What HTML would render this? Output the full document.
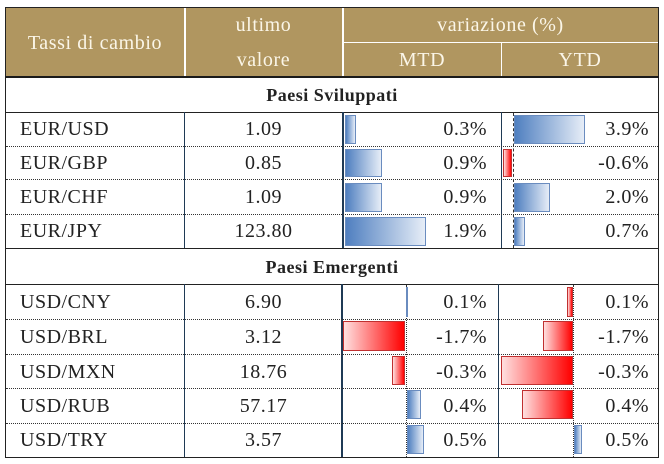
<!DOCTYPE html>
<html><head><style>
*{margin:0;padding:0;box-sizing:border-box}
body{width:664px;height:464px;background:#fff;position:relative;overflow:hidden;font-family:"Liberation Serif",serif;font-size:20px;letter-spacing:0.5px;color:#222}
.a{position:absolute}
.hd{background:#b09660}
.ht{position:absolute;color:#fbf6e8;font-size:20px;letter-spacing:0.6px;text-align:center;line-height:22px}
.t{position:absolute;line-height:22px}
.pos{position:absolute;background:linear-gradient(to right,#4f7fc0,#e6edf7);border:1px solid #6a8cbf}
.neg{position:absolute;background:linear-gradient(to right,#ffe0e0,#ff0000);border:1px solid #c03030}
.hl{position:absolute;height:0;border-top:1px dotted #333;left:6px;width:652px}
</style></head><body>
<div class="a hd" style="left:6px;top:8px;width:652px;height:69px"></div>
<div class="a" style="left:184px;top:8px;width:2px;height:69px;background:#fff"></div>
<div class="a" style="left:342px;top:8px;width:2px;height:69px;background:#fff"></div>
<div class="a" style="left:343px;top:42px;width:315px;height:1px;background:#fff"></div>
<div class="a" style="left:501px;top:42px;width:1px;height:35px;background:#fff"></div>
<div class="ht" style="left:6px;width:178px;top:32px">Tassi di cambio</div>
<div class="ht" style="left:185px;width:157px;top:14px">ultimo</div>
<div class="ht" style="left:185px;width:157px;top:49px">valore</div>
<div class="ht" style="left:343px;width:315px;top:14px">variazione (%)</div>
<div class="ht" style="left:343px;width:158px;top:49px">MTD</div>
<div class="ht" style="left:502px;width:156px;top:49px">YTD</div>
<div class="a" style="left:5px;top:7px;width:654px;height:451px;border:1px solid #222"></div>
<div class="a" style="left:5px;top:76px;width:654px;height:2px;background:#1a1a1a"></div>
<div class="a" style="left:5px;top:112px;width:654px;height:1px;background:#222"></div>
<div class="a" style="left:5px;top:248px;width:654px;height:1px;background:#222"></div>
<div class="a" style="left:5px;top:284px;width:654px;height:1px;background:#222"></div>
<div class="t" style="left:6px;width:652px;top:84px;text-align:center;font-weight:bold;font-size:18px">Paesi Sviluppati</div>
<div class="t" style="left:6px;width:652px;top:256px;text-align:center;font-weight:bold;font-size:18px">Paesi Emergenti</div>
<div class="a" style="left:184px;top:112px;width:1px;height:136px;background:#1f3a55"></div>
<div class="a" style="left:342px;top:112px;width:2px;height:136px;background:#1f3a55"></div>
<div class="a" style="left:501px;top:112px;width:1px;height:136px;background:#1f3a55"></div>
<div class="a" style="left:184px;top:284px;width:1px;height:173px;background:#1f3a55"></div>
<div class="a" style="left:341px;top:284px;width:2px;height:173px;background:#1f3a55"></div>
<div class="a" style="left:498px;top:284px;width:1px;height:173px;background:#1f3a55"></div>
<div class="hl" style="top:146px"></div><div class="hl" style="top:179px"></div><div class="hl" style="top:214px"></div>
<div class="hl" style="top:319px"></div><div class="hl" style="top:354px"></div><div class="hl" style="top:388px"></div><div class="hl" style="top:423px"></div>
<div class="a" style="left:513px;top:113px;height:135px;border-left:1px dashed #333"></div>
<div class="a" style="left:406px;top:285px;height:172px;border-left:1px dotted #333"></div>
<div class="a" style="left:573px;top:285px;height:172px;border-left:1px dotted #333"></div>
<div class="pos" style="left:345px;top:115px;width:11px;height:29px"></div>
<div class="pos" style="left:514px;top:115px;width:71px;height:29px"></div>
<div class="pos" style="left:345px;top:149px;width:37px;height:28px"></div>
<div class="neg" style="left:503px;top:149px;width:9px;height:28px"></div>
<div class="pos" style="left:345px;top:183px;width:37px;height:29px"></div>
<div class="pos" style="left:514px;top:183px;width:36px;height:29px"></div>
<div class="pos" style="left:345px;top:217px;width:81px;height:29px"></div>
<div class="pos" style="left:514px;top:217px;width:11px;height:29px"></div>
<div class="pos" style="left:406px;top:287px;width:2px;height:30px"></div>
<div class="neg" style="left:567px;top:287px;width:6px;height:30px"></div>
<div class="neg" style="left:343px;top:321px;width:62px;height:30px"></div>
<div class="neg" style="left:543px;top:321px;width:30px;height:30px"></div>
<div class="neg" style="left:392px;top:356px;width:13px;height:29px"></div>
<div class="neg" style="left:501px;top:356px;width:72px;height:29px"></div>
<div class="pos" style="left:407px;top:390px;width:14px;height:29px"></div>
<div class="neg" style="left:522px;top:390px;width:51px;height:29px"></div>
<div class="pos" style="left:407px;top:425px;width:17px;height:29px"></div>
<div class="pos" style="left:574px;top:425px;width:8px;height:29px"></div>
<div class="t" style="left:20px;top:118px">EUR/USD</div>
<div class="t" style="left:20px;top:152px">EUR/GBP</div>
<div class="t" style="left:20px;top:186px">EUR/CHF</div>
<div class="t" style="left:20px;top:220px">EUR/JPY</div>
<div class="t" style="left:20px;top:291px">USD/CNY</div>
<div class="t" style="left:20px;top:326px">USD/BRL</div>
<div class="t" style="left:20px;top:361px">USD/MXN</div>
<div class="t" style="left:20px;top:395px">USD/RUB</div>
<div class="t" style="left:20px;top:429px">USD/TRY</div>
<div class="t" style="left:185px;width:157px;text-align:center;top:118px">1.09</div>
<div class="t" style="left:185px;width:157px;text-align:center;top:152px">0.85</div>
<div class="t" style="left:185px;width:157px;text-align:center;top:186px">1.09</div>
<div class="t" style="left:185px;width:157px;text-align:center;top:220px">123.80</div>
<div class="t" style="left:185px;width:157px;text-align:center;top:291px">6.90</div>
<div class="t" style="left:185px;width:157px;text-align:center;top:326px">3.12</div>
<div class="t" style="left:185px;width:157px;text-align:center;top:361px">18.76</div>
<div class="t" style="left:185px;width:157px;text-align:center;top:395px">57.17</div>
<div class="t" style="left:185px;width:157px;text-align:center;top:429px">3.57</div>
<div class="t" style="left:400px;width:87px;text-align:right;top:118px">0.3%</div>
<div class="t" style="left:400px;width:87px;text-align:right;top:152px">0.9%</div>
<div class="t" style="left:400px;width:87px;text-align:right;top:186px">0.9%</div>
<div class="t" style="left:400px;width:87px;text-align:right;top:220px">1.9%</div>
<div class="t" style="left:400px;width:87px;text-align:right;top:291px">0.1%</div>
<div class="t" style="left:400px;width:87px;text-align:right;top:326px">-1.7%</div>
<div class="t" style="left:400px;width:87px;text-align:right;top:361px">-0.3%</div>
<div class="t" style="left:400px;width:87px;text-align:right;top:395px">0.4%</div>
<div class="t" style="left:400px;width:87px;text-align:right;top:429px">0.5%</div>
<div class="t" style="left:560px;width:89px;text-align:right;top:118px">3.9%</div>
<div class="t" style="left:560px;width:89px;text-align:right;top:152px">-0.6%</div>
<div class="t" style="left:560px;width:89px;text-align:right;top:186px">2.0%</div>
<div class="t" style="left:560px;width:89px;text-align:right;top:220px">0.7%</div>
<div class="t" style="left:560px;width:89px;text-align:right;top:291px">0.1%</div>
<div class="t" style="left:560px;width:89px;text-align:right;top:326px">-1.7%</div>
<div class="t" style="left:560px;width:89px;text-align:right;top:361px">-0.3%</div>
<div class="t" style="left:560px;width:89px;text-align:right;top:395px">0.4%</div>
<div class="t" style="left:560px;width:89px;text-align:right;top:429px">0.5%</div>
</body></html>
